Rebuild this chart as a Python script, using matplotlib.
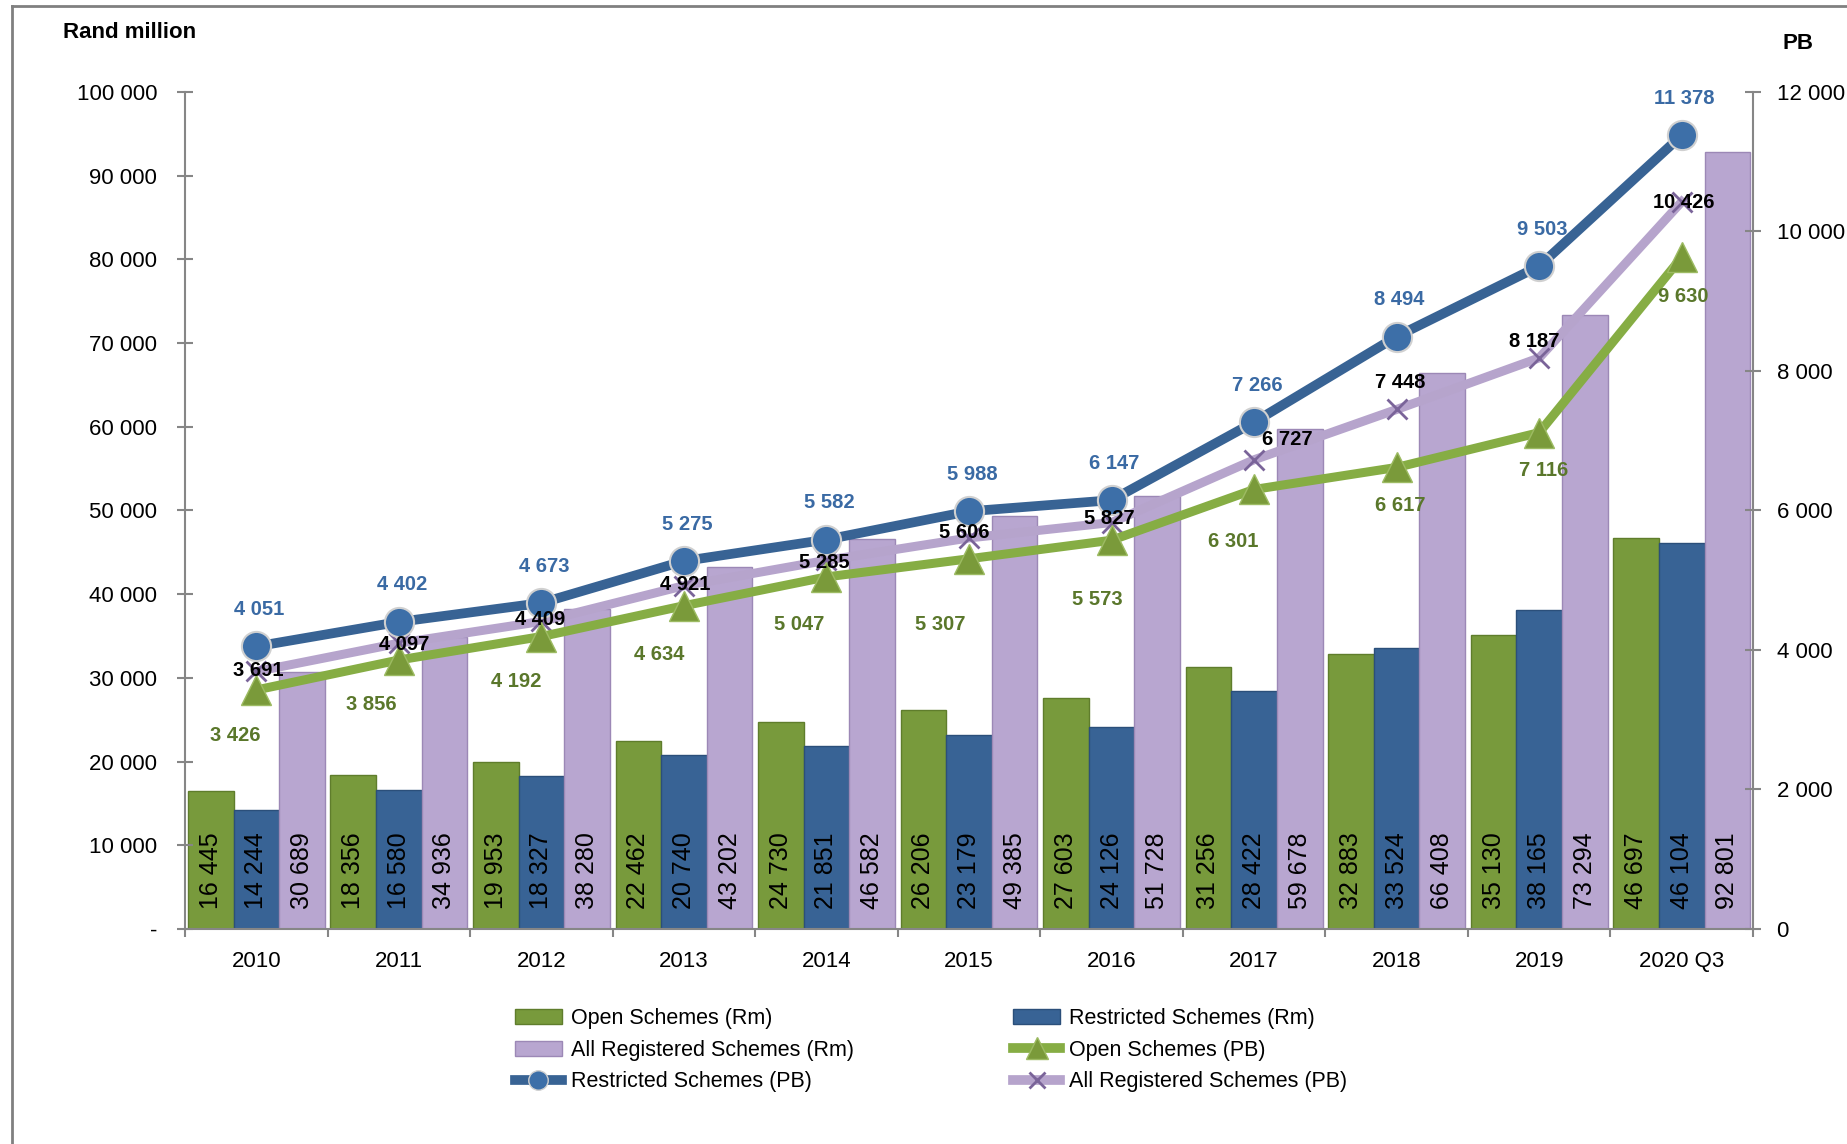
import numpy as np
import matplotlib.pyplot as plt
from matplotlib.patches import Patch
from matplotlib.lines import Line2D

plt.rcParams['font.family'] = ['Liberation Sans', 'DejaVu Sans']

years = ['2010', '2011', '2012', '2013', '2014', '2015', '2016', '2017', '2018', '2019', '2020 Q3']

# Rand million (bars, left axis)
open_rm = [16445, 18356, 19953, 22462, 24730, 26206, 27603, 31256, 32883, 35130, 46697]
restricted_rm = [14244, 16580, 18327, 20740, 21851, 23179, 24126, 28422, 33524, 38165, 46104]
all_rm = [30689, 34936, 38280, 43202, 46582, 49385, 51728, 59678, 66408, 73294, 92801]

# PB (lines, right axis)
open_pb = [3426, 3856, 4192, 4634, 5047, 5307, 5573, 6301, 6617, 7116, 9630]
restricted_pb = [4051, 4402, 4673, 5275, 5582, 5988, 6147, 7266, 8494, 9503, 11378]
all_pb = [3691, 4097, 4409, 4921, 5285, 5606, 5827, 6727, 7448, 8187, 10426]

# label nudges in pixels (dx, dy)
open_dx = [-21, -28, -25, -25, -27, -29, -14, -21, 4, 4, 2]
open_dy = [-46, -45, -45, -49, -48, -66, -59, -52, -38, -38, -39]
all_dx = [2, 5, -1, 1, -2, -5, -2, 33, 4, -5, 2]
all_dy = [1, -1, 2, 1, -2, 5, 4, 20, 27, 16, -1]

c_green_bar = '#789a3c'
c_blue_bar = '#386395'
c_purple_bar = '#b8a6d0'
c_green_line = '#86ad44'
c_blue_line = '#386394'
c_purple_line = '#b6a4cc'
grey = '#868686'


def fmt(v, dash=False):
    if v == 0 and dash:
        return '-'
    return f'{int(v):,}'.replace(',', ' ')


x = np.arange(len(years))
w = 0.32

fig = plt.figure(figsize=(18.47, 11.44), dpi=100)
ax = fig.add_axes([0.1002, 0.188, 0.8489, 0.7316])

ax.bar(x - w, open_rm, w, color=c_green_bar, edgecolor='#5f7d2c', lw=1)
ax.bar(x, restricted_rm, w, color=c_blue_bar, edgecolor='#2b4f7a', lw=1)
ax.bar(x + w, all_rm, w, color=c_purple_bar, edgecolor='#9c88b6', lw=1)

for i in range(len(years)):
    for off, v in zip((-w, 0, w), (open_rm[i], restricted_rm[i], all_rm[i])):
        ax.annotate(fmt(v), (x[i] + off, 0), xytext=(0, 20), textcoords='offset pixels',
                    rotation=90, ha='center', va='bottom', fontsize=18, color='black')

ax.set_xlim(-0.5, len(years) - 0.5)
ax.set_ylim(0, 100000)
yt = np.arange(0, 100001, 10000)
ax.set_yticks(yt)
ax.set_yticklabels([fmt(v, True) for v in yt])
ax.set_xticks(x)
ax.set_xticklabels(years)
ax.set_xticks(np.arange(-0.5, len(years), 1), minor=True)
ax.tick_params(axis='y', direction='inout', length=12, width=1.5, color=grey, labelsize=16, pad=14)
ax.tick_params(axis='x', which='major', length=0, labelsize=16, pad=16)
ax.tick_params(axis='x', which='minor', direction='out', length=6, width=1.5, color=grey)
for s in ['top', 'right']:
    ax.spines[s].set_visible(False)
for s in ['left', 'bottom']:
    ax.spines[s].set_color(grey)
    ax.spines[s].set_linewidth(1.5)

ax2 = ax.twinx()
ax2.set_ylim(0, 12000)
yt2 = np.arange(0, 12001, 2000)
ax2.set_yticks(yt2)
ax2.set_yticklabels([fmt(v) for v in yt2])
ax2.tick_params(axis='y', direction='inout', length=12, width=1.5, color=grey, labelsize=16, pad=11)
for s in ['top', 'left', 'bottom']:
    ax2.spines[s].set_visible(False)
ax2.spines['right'].set_color(grey)
ax2.spines['right'].set_linewidth(1.5)

ax2.plot(x, all_pb, color=c_purple_line, lw=6.5, marker='x', ms=14, mec='#7a6499', mew=2, zorder=3)
ax2.plot(x, open_pb, color=c_green_line, lw=6.5, marker='^', ms=22, mfc='#7a9a3a', mec='#9dbb63', mew=1, zorder=4)
ax2.plot(x, restricted_pb, color=c_blue_line, lw=7, marker='o', ms=21, mfc='#3d6fa8', mec='#d0d0d0', mew=1.5, zorder=5)

for i in range(len(years)):
    ax2.annotate(fmt(restricted_pb[i]), (x[i], restricted_pb[i]), xytext=(3, 37), textcoords='offset pixels',
                 ha='center', va='center', fontsize=14.5, fontweight='bold', color='#3a6aa4', zorder=6)
    ax2.annotate(fmt(open_pb[i]), (x[i], open_pb[i]), xytext=(open_dx[i], open_dy[i]), textcoords='offset pixels',
                 ha='center', va='center', fontsize=14.5, fontweight='bold', color='#5a772b', zorder=6)
    ax2.annotate(fmt(all_pb[i]), (x[i], all_pb[i]), xytext=(all_dx[i], all_dy[i]), textcoords='offset pixels',
                 ha='center', va='center', fontsize=14.5, fontweight='bold', color='black', zorder=6)

fig.text(0.034, 0.972, 'Rand million', ha='left', va='center', fontsize=16, fontweight='bold')
fig.text(0.965, 0.962, 'PB', ha='left', va='center', fontsize=16, fontweight='bold')

handles = [
    Patch(facecolor=c_green_bar, edgecolor='#5f7d2c'),
    Patch(facecolor=c_purple_bar, edgecolor='#9c88b6'),
    Line2D([], [], color=c_blue_line, lw=7, marker='o', ms=14, mfc='#3d6fa8', mec='#d0d0d0'),
    Patch(facecolor=c_blue_bar, edgecolor='#2b4f7a'),
    Line2D([], [], color=c_green_line, lw=7, marker='^', ms=16, mfc='#7a9a3a', mec='#9dbb63'),
    Line2D([], [], color=c_purple_line, lw=7, marker='x', ms=12, mec='#7a6499', mew=2),
]
labels = ['Open Schemes (Rm)', 'All Registered Schemes (Rm)', 'Restricted Schemes (PB)',
          'Restricted Schemes (Rm)', 'Open Schemes (PB)', 'All Registered Schemes (PB)']
fig.legend(handles, labels, loc='center', bbox_to_anchor=(0.504, 0.082), ncol=2, frameon=False,
           fontsize=15.5, handlelength=2.2, handletextpad=0.4, columnspacing=7.4, labelspacing=0.5)

# outer frame
fig.add_artist(Line2D([12 / 1847, 12 / 1847], [0, 1 - 6 / 1144], transform=fig.transFigure, color='#808080', lw=2))
fig.add_artist(Line2D([12 / 1847, 1], [1 - 6 / 1144, 1 - 6 / 1144], transform=fig.transFigure, color='#808080', lw=2))

fig.savefig('out.png', dpi=100)
